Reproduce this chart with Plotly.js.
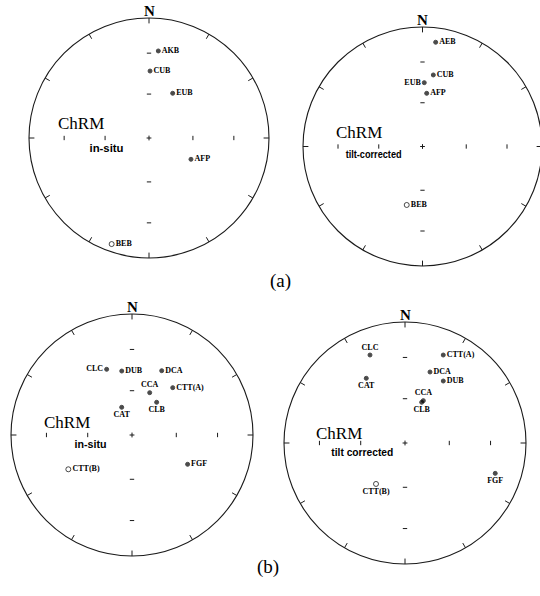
<!DOCTYPE html>
<html><head><meta charset="utf-8">
<script src="https://cdn.plot.ly/plotly-3.0.1.min.js"></script>
<style>html,body{margin:0;padding:0;background:#fff}#chart{width:540px;height:596px}</style>
</head><body><div id="chart"></div>
<script>
// ---- data: site names, declination (deg), inclination (deg; negative = upper hemisphere)
const aInsituSites = ["AKB", "CUB", "EUB", "AFP", "BEB"];
const aInsituDec   = [6.1, 0.9, 27.9, 116.9, 199.4];
const aInsituInc   = [27.9, 43.5, 55.3, 57.8, -7.0];

const aTiltSites = ["AEB", "CUB", "EUB", "AFP", "BEB"];
const aTiltDec   = [7.2, 8.6, 1.6, 4.5, 195.1];
const aTiltInc   = [13.1, 39.3, 45.6, 53.2, -48.0];

const bInsituSites = ["CLC", "DUB", "DCA", "CCA", "CTT(A)", "CLB", "CAT", "FGF", "CTT(B)"];
const bInsituDec   = [338.9, 350.9, 24.8, 22.7, 40.7, 37.0, 339.6, 117.8, 241.7];
const bInsituInc   = [41.4, 45.5, 41.1, 58.9, 47.2, 62.3, 70.1, 46.9, -40.0];

const bTiltSites = ["CLC", "CTT(A)", "DCA", "DUB", "CAT", "CCA", "CLB", "FGF", "CTT(B)"];
const bTiltDec   = [338.3, 23.5, 19.4, 31.7, 329.1, 23.4, 22.3, 108.6, 215.3];
const bTiltInc   = [22.8, 21.8, 37.8, 39.6, 37.7, 58.7, 60.2, 22.4, -55.9];

const panelTitles = ["in-situ", "tilt-corrected", "in-situ", "tilt corrected"];
const partLabels = ["(a)", "(b)"];

// ---- label placement (style)
const labelPos = [
  ["middle right","middle right","middle right","middle right","middle right"],
  ["middle right","middle right","middle left","middle right","middle right"],
  ["middle left","middle right","middle right","top center","middle right","bottom center","bottom center","middle right","middle right"],
  ["top center","middle right","middle right","middle right","bottom center","top center","bottom center","bottom center","bottom center"]
];

// ---- layout geometry (pixels)
const W = 540, H = 596;
const panels = [
  {cx:149, cy:138, R:120, box:[0,272,0,272], chrm:[81,123], sub:[106,148], subW:34},
  {cx:422.5, cy:146.5, R:119.5, box:[272,540,0,276], chrm:[359,132], sub:[373,154], subW:56},
  {cx:132, cy:435, R:121, box:[0,272,285,596], chrm:[67,422], sub:[90,444], subW:32},
  {cx:405, cy:443, R:121, box:[272,540,285,596], chrm:[339,433], sub:[362,452], subW:62}
];
const datasets = [
  [aInsituSites, aInsituDec, aInsituInc],
  [aTiltSites, aTiltDec, aTiltInc],
  [bInsituSites, bInsituDec, bInsituInc],
  [bTiltSites, bTiltDec, bTiltInc]
];

const rad = Math.PI/180;
function eqArea(dec, inc){
  const r = Math.SQRT2*Math.sin((90-Math.abs(inc))/2*rad);
  return [r*Math.sin(dec*rad), r*Math.cos(dec*rad)];
}

const traces = [], shapes = [], annotations = [];
const layout = {width:W, height:H, margin:{l:0,r:0,t:0,b:0}, showlegend:false,
  paper_bgcolor:'#fff', plot_bgcolor:'rgba(0,0,0,0)'};

const serif = "Liberation Serif, Times New Roman, serif";
const narrow = "Liberation Sans, Arial, sans-serif";
const lineCol = '#1a1a1a';

panels.forEach((p, i) => {
  const n = i+1, xa = 'x'+(n>1?n:''), ya = 'y'+(n>1?n:'');
  const [x0,x1,y0,y1] = p.box;
  layout['xaxis'+(n>1?n:'')] = {domain:[x0/W, x1/W], range:[(x0-p.cx)/p.R, (x1-p.cx)/p.R],
    visible:false, fixedrange:true, anchor:ya};
  layout['yaxis'+(n>1?n:'')] = {domain:[1-y1/H, 1-y0/H], range:[(p.cy-y1)/p.R, (p.cy-y0)/p.R],
    visible:false, fixedrange:true, anchor:xa};
  const px = (X)=> (X-p.cx)/p.R, py = (Y)=> (p.cy-Y)/p.R;

  // primitive circle
  shapes.push({type:'circle', xref:xa, yref:ya, x0:-1, x1:1, y0:-1, y1:1,
    line:{color:lineCol, width:1.1}});
  // outer ticks every 30 deg
  for (let a=0; a<360; a+=30){
    const s=Math.sin(a*rad), c=Math.cos(a*rad);
    shapes.push({type:'line', xref:xa, yref:ya, x0:s, y0:c, x1:0.955*s, y1:0.955*c,
      line:{color:lineCol, width:1}});
  }
  // inclination ticks (30 and 60 deg) along N-S and E-W axes
  [30,60].forEach(inc => {
    const r = Math.SQRT2*Math.sin((90-inc)/2*rad), h = 0.018;
    [-1,1].forEach(sg => {
      shapes.push({type:'line', xref:xa, yref:ya, x0:sg*r, x1:sg*r, y0:-h, y1:h, line:{color:lineCol, width:1}});
      shapes.push({type:'line', xref:xa, yref:ya, x0:-h, x1:h, y0:sg*r, y1:sg*r, line:{color:lineCol, width:1}});
    });
  });
  // centre cross
  shapes.push({type:'line', xref:xa, yref:ya, x0:-0.02, x1:0.02, y0:0, y1:0, line:{color:lineCol, width:1}});
  shapes.push({type:'line', xref:xa, yref:ya, x0:0, x1:0, y0:-0.02, y1:0.02, line:{color:lineCol, width:1}});

  // data points
  const [sites, dec, inc] = datasets[i];
  const xs=[], ys=[], sym=[];
  dec.forEach((d,k)=>{ const [x,y]=eqArea(d, inc[k]); xs.push(x); ys.push(y);
    sym.push(inc[k] >= 0 ? 'circle' : 'circle-open'); });
  traces.push({type:'scatter', mode:'markers+text', xaxis:xa, yaxis:ya, x:xs, y:ys,
    text:sites, textposition:labelPos[i], cliponaxis:false, hoverinfo:'skip',
    marker:{symbol:sym, size:inc.map(v=>v>=0?4:5), color:'#000', line:{color:'#000', width:1}},
    textfont:{family:serif, size:8, color:'#000', weight:'bold'}});

  // N
  annotations.push({xref:xa, yref:ya, x:0, y:1.0, text:'N', showarrow:false, yanchor:'bottom',
    yshift:-3, font:{family:serif, size:15, color:'#000', weight:'bold'}});
  // ChRM and subtitle
  annotations.push({xref:xa, yref:ya, x:px(p.chrm[0]), y:py(p.chrm[1]), text:'ChRM', showarrow:false,
    font:{family:serif, size:17, color:'#000'}});
  annotations.push({xref:xa, yref:ya, x:px(p.sub[0]), y:py(p.sub[1]), text:panelTitles[i], showarrow:false,
    font:{family:narrow, size:11, color:'#000', weight:'bold'}});
});

annotations.push({xref:'paper', yref:'paper', x:280/W, y:1-281/H, text:partLabels[0], showarrow:false,
  font:{family:serif, size:19, color:'#000'}});
annotations.push({xref:'paper', yref:'paper', x:268/W, y:1-580/H, text:partLabels[1], showarrow:false,
  font:{family:serif, size:19, color:'#000'}});

layout.shapes = shapes;
layout.annotations = annotations;
Plotly.newPlot('chart', traces, layout, {staticPlot:true, displayModeBar:false}).then(gd => {
  // condense the subtitle text horizontally (narrow typeface of the original)
  const texts = gd.querySelectorAll('.annotation-text');
  let k = 0;
  texts.forEach(t => {
    const idx = panelTitles.indexOf(t.textContent);
    if (idx >= 0 && k < panels.length) {
      t.setAttribute('textLength', panels[k].subW);
      t.setAttribute('lengthAdjust', 'spacingAndGlyphs');
      k++;
    }
  });
});
</script></body></html>
